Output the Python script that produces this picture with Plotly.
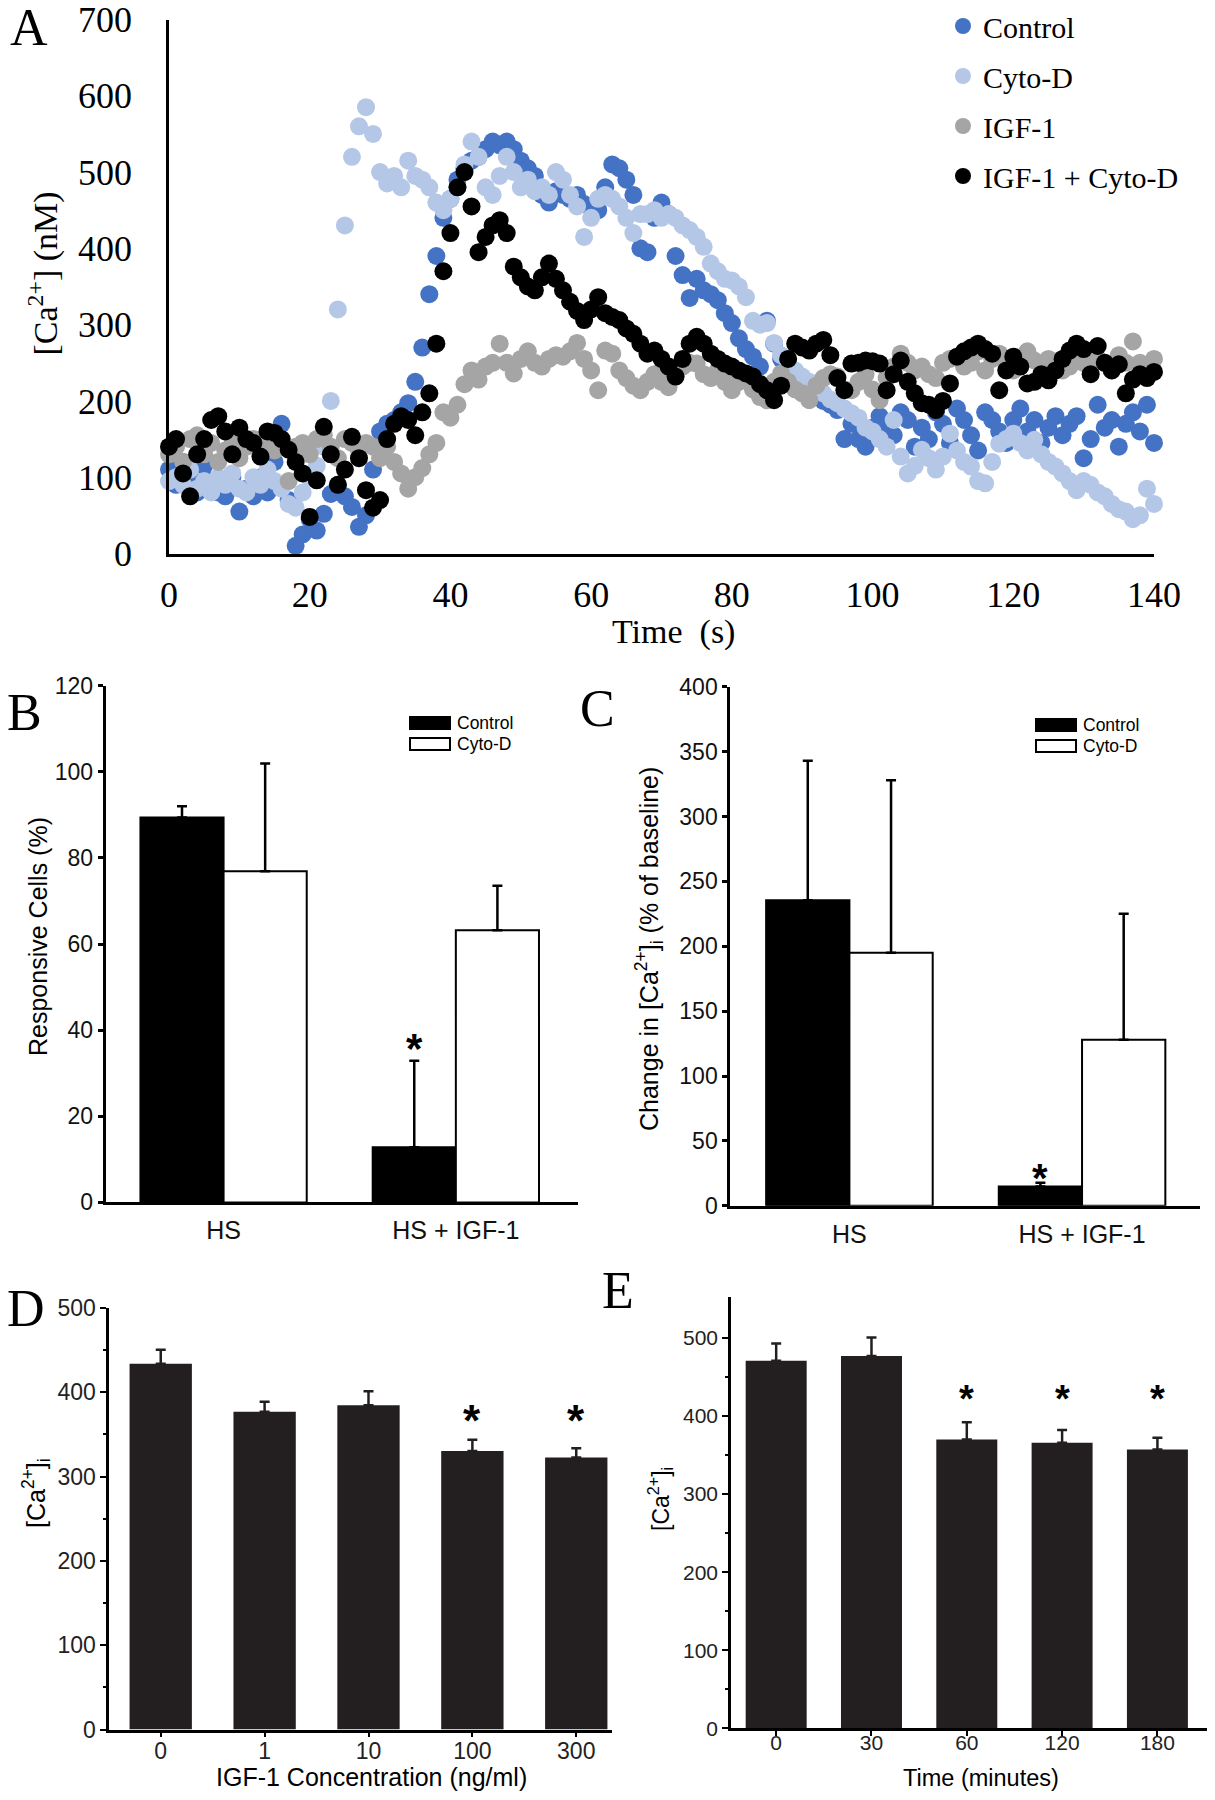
import plotly.graph_objects as go

# ---------------- Panel A data (time course, 1 s sampling) ----------------
time_s = list(range(0, 141))
control = [110, 90, 120, 100, 80, 115, 95, 80, 75, 100,
           55, 85, 75, 100, 80, 120, 170, 70, 10, 25,
           45, 30, 52, 78, 90, 75, 61, 35, 50, 110,
           160, 170, 175, 185, 197, 225, 270, 340, 390, 440,
           465, 490, 505, 515, 520, 530, 540, 535, 540, 530,
           515, 505, 495, 470, 460, 475, 470, 465, 470, 458,
           455, 450, 480, 510, 505, 490, 470, 400, 395, 440,
           460, 445, 390, 365, 335, 360, 345, 340, 332, 315,
           302, 282, 268, 258, 245, 305, 275, 255, 240, 230,
           225, 215, 210, 200, 195, 188, 150, 170, 150, 140,
           165, 180, 160, 155, 185, 175, 140, 165, 150, 185,
           170, 145, 190, 175, 155, 135, 185, 175, 160, 145,
           175, 190, 160, 175, 145, 165, 180, 155, 170, 180,
           125, 150, 195, 165, 175, 140, 170, 185, 160, 195,
           145]
cyto_d = [95, 100, 90, 110, 85, 95, 80, 100, 90, 105,
          85, 80, 100, 90, 110, 95, 85, 65, 60, 80,
          100, 115, 140, 200, 320, 430, 520, 560, 585, 550,
          500, 485, 495, 480, 515, 495, 490, 480, 460, 450,
          465, 480, 510, 540, 520, 480, 470, 495, 520, 500,
          480, 490, 475, 480, 470, 500, 490, 470, 455, 415,
          440, 465, 470, 465, 455, 440, 420, 445, 445, 450,
          440, 445, 440, 430, 424, 415, 402, 380, 370, 360,
          358, 350, 336, 305, 300, 302, 276, 260, 250, 240,
          232, 225, 218, 210, 202, 197, 190, 184, 178, 165,
          160, 150, 140, 175, 127, 105, 115, 136, 125, 110,
          127, 157, 135, 120, 114, 95, 92, 120, 144, 150,
          157, 145, 135, 149, 130, 120, 114, 105, 95, 83,
          95, 90, 80, 75, 65, 58, 55, 45, 50, 85,
          65]
igf1 = [130, 140, 120, 150, 155, 130, 145, 120, 135, 150,
        125, 140, 150, 130, 145, 135, 150, 95, 140, 145,
        130, 150, 155, 140, 125, 150, 145, 135, 145, 140,
        125, 140, 120, 105, 85, 100, 112, 130, 145, 185,
        178, 195, 222, 240, 228, 245, 250, 275, 250, 236,
        255, 265, 250, 245, 255, 260, 258, 265, 276, 255,
        240, 214, 266, 262, 240, 230, 220, 214, 225, 235,
        225, 218, 235, 245, 250, 249, 235, 230, 240, 225,
        214, 225, 235, 215, 205, 201, 225, 236, 225, 215,
        210, 201, 220, 230, 235, 232, 215, 214, 225, 235,
        215, 201, 230, 245, 262, 250, 240, 245, 235, 230,
        250, 255, 258, 245, 250, 265, 240, 255, 262, 250,
        240, 255, 265, 253, 245, 255, 250, 240, 245, 260,
        250, 265, 255, 250, 240, 260, 250, 278, 250, 245,
        255]
igf1_cyto_d = [140, 150, 105, 75, 130, 150, 175, 180, 160, 130,
               165, 150, 145, 127, 160, 158, 150, 136, 120, 105,
               48, 96, 166, 130, 90, 110, 153, 125, 83, 60,
               70, 150, 170, 180, 175, 155, 185, 210, 275, 370,
               420, 480, 500, 455, 395, 415, 430, 437, 420, 376,
               362, 350, 345, 362, 380, 360, 345, 330, 318, 306,
               320, 336, 315, 310, 306, 295, 288, 275, 262, 266,
               255, 245, 232, 255, 275, 284, 275, 262, 255, 249,
               245, 240, 236, 232, 222, 214, 201, 220, 255, 275,
               270, 266, 275, 280, 260, 230, 214, 249, 250, 253,
               252, 249, 214, 235, 253, 225, 210, 197, 195, 188,
               200, 223, 258, 265, 270, 275, 268, 262, 214, 240,
               258, 245, 223, 225, 235, 227, 240, 255, 266, 275,
               268, 235, 272, 250, 240, 248, 210, 228, 235, 230,
               238]
a_xticks = [0, 20, 40, 60, 80, 100, 120, 140]
a_yticks = [0, 100, 200, 300, 400, 500, 600, 700]

# ---------------- Panel B ----------------
b_groups = ["HS", "HS + IGF-1"]
b_control = [89.4, 12.8]
b_control_err = [2.6, 20.1]
b_cyto = [76.9, 63.2]
b_cyto_err = [25.0, 10.3]
b_star_value = 38

# ---------------- Panel C ----------------
c_groups = ["HS", "HS + IGF-1"]
c_control = [235.4, 14.8]
c_control_err = [107.6, 2.9]
c_cyto = [195.0, 128.0]
c_cyto_err = [133.0, 97.0]
c_star_value = 28.5

# ---------------- Panel D ----------------
d_conc = ["0", "1", "10", "100", "300"]
d_vals = [434.0, 376.8, 384.5, 330.5, 322.7]
d_err = [16.6, 12.0, 16.8, 13.3, 10.8]
d_sig = [False, False, False, True, True]
d_star_value = 379

# ---------------- Panel E ----------------
e_time = ["0", "30", "60", "120", "180"]
e_vals = [470.6, 476.7, 370.0, 365.8, 357.0]
e_err = [22.4, 23.8, 22.0, 16.2, 15.0]
e_sig = [False, False, True, True, True]
e_star_value = 433

W, H = 1215, 1800
SERIF = "Liberation Serif, Times New Roman, serif"
SANS = "Liberation Sans, Arial, sans-serif"
BARK = "#231F20"


def px(x):
    return x / W


def py(y):
    return 1 - y / H


fig = go.Figure()

# Panel A scatter series (later series drawn on top)
a_series = [("Control", control, "#4472C4"),
            ("Cyto-D", cyto_d, "#B4C7E7"),
            ("IGF-1", igf1, "#A5A5A5"),
            ("IGF-1 + Cyto-D", igf1_cyto_d, "#000000")]
for i, (name, vals, col) in enumerate(a_series):
    fig.add_trace(go.Scatter(
        x=time_s, y=vals, mode="markers", name=name,
        marker=dict(color=col, size=18, line=dict(width=0)),
        xaxis="x", yaxis="y", legend="legend", legendgroup=f"a{i}",
        cliponaxis=False, showlegend=True))

# Panel B and C grouped bars with explicit offsets
BW = 0.358
for grp, ctrl, ctrl_e, cyto, cyto_e, xa, ya in [
        (b_groups, b_control, b_control_err, b_cyto, b_cyto_err, "x2", "y2"),
        (c_groups, c_control, c_control_err, c_cyto, c_cyto_err, "x3", "y3")]:
    fig.add_trace(go.Bar(
        x=grp, y=ctrl, width=BW, offset=-BW, name="Control",
        marker=dict(color="black", line=dict(color="black", width=2)),
        error_y=dict(type="data", array=ctrl_e, arrayminus=[0] * len(ctrl_e),
                     symmetric=False, color="black", thickness=2.5, width=5),
        xaxis=xa, yaxis=ya, showlegend=False))
    fig.add_trace(go.Bar(
        x=grp, y=cyto, width=BW, offset=0, name="Cyto-D",
        marker=dict(color="white", line=dict(color="black", width=2)),
        error_y=dict(type="data", array=cyto_e, arrayminus=[0] * len(cyto_e),
                     symmetric=False, color="black", thickness=2.5, width=5),
        xaxis=xa, yaxis=ya, showlegend=False))

# Panel D
fig.add_trace(go.Bar(
    x=d_conc, y=d_vals, width=0.6, marker=dict(color=BARK, line=dict(width=0)),
    error_y=dict(type="data", array=d_err, arrayminus=[0] * len(d_err),
                 symmetric=False, color=BARK, thickness=2.5, width=5),
    xaxis="x4", yaxis="y4", showlegend=False))
# Panel E
fig.add_trace(go.Bar(
    x=e_time, y=e_vals, width=0.64, marker=dict(color=BARK, line=dict(width=0)),
    error_y=dict(type="data", array=e_err, arrayminus=[0] * len(e_err),
                 symmetric=False, color=BARK, thickness=2.5, width=5),
    xaxis="x5", yaxis="y5", showlegend=False))

axis_common = dict(showgrid=False, zeroline=False, showline=True, linecolor="black",
                   automargin=False)

layout = dict(
    width=W, height=H, margin=dict(l=0, r=0, t=0, b=0, pad=0, autoexpand=False),
    autosize=False,
    paper_bgcolor="white", plot_bgcolor="white", barmode="overlay",
    # Panel A
    xaxis=dict(domain=[px(169), px(1154)], range=[0, 140], tickvals=a_xticks,
               ticks="outside", ticklen=8, tickcolor="rgba(0,0,0,0)",
               tickfont=dict(family=SERIF, size=36, color="black"),
               linewidth=2.5, anchor="y", **axis_common),
    yaxis=dict(domain=[py(553.5), py(19.5)], range=[0, 700], tickvals=a_yticks,
               ticks="outside", ticklen=27, tickcolor="rgba(0,0,0,0)",
               tickfont=dict(family=SERIF, size=36, color="black"),
               linewidth=2.5, anchor="x", **axis_common),
    # Panel B
    xaxis2=dict(domain=[px(105.6), px(578)], range=[-0.508, 1.526], type="category",
                ticks="outside", ticklen=4, tickcolor="rgba(0,0,0,0)",
                tickfont=dict(family=SANS, size=25, color="#111"),
                linewidth=3, anchor="y2", **axis_common),
    yaxis2=dict(domain=[py(1202.4), py(685.6)], range=[0, 120], dtick=20,
                ticks="outside", ticklen=5, tickwidth=2.5, tickcolor="black",
                tickfont=dict(family=SANS, size=23, color="#111"),
                linewidth=3, anchor="x2", **axis_common),
    # Panel C
    xaxis3=dict(domain=[px(730.3), px(1200)], range=[-0.512, 1.507], type="category",
                ticks="outside", ticklen=4, tickcolor="rgba(0,0,0,0)",
                tickfont=dict(family=SANS, size=25, color="#111"),
                linewidth=3, anchor="y3", **axis_common),
    yaxis3=dict(domain=[py(1205.8), py(686.7)], range=[0, 400], dtick=50,
                ticks="outside", ticklen=5, tickwidth=2.5, tickcolor="black",
                tickfont=dict(family=SANS, size=23, color="#111"),
                linewidth=3, anchor="x3", **axis_common),
    # Panel D
    xaxis4=dict(domain=[px(109.2), px(612)], range=[-0.496, 4.344], type="category",
                ticks="outside", ticklen=5, tickwidth=2, tickcolor="black",
                ticklabelstandoff=-6,
                tickfont=dict(family=SANS, size=23, color="#222"),
                linewidth=2.5, anchor="y4", **axis_common),
    yaxis4=dict(domain=[py(1729.5), py(1308)], range=[0, 500], dtick=100,
                ticks="outside", ticklen=6, tickwidth=2, tickcolor="black",
                minor=dict(dtick=50, ticks="outside", ticklen=3, tickwidth=1.5, tickcolor="black"),
                tickfont=dict(family=SANS, size=23, color="#222"),
                linewidth=2.5, anchor="x4", **axis_common),
    # Panel E
    xaxis5=dict(domain=[px(731), px(1206.5)], range=[-0.474, 4.515], type="category",
                ticks="outside", ticklen=5, tickwidth=2, tickcolor="black",
                ticklabelstandoff=-11,
                tickfont=dict(family=SANS, size=21, color="#222"),
                linewidth=2.5, anchor="y5", **axis_common),
    yaxis5=dict(domain=[py(1728.3), py(1297)], range=[0, 552.4],
                tickvals=[0, 100, 200, 300, 400, 500],
                ticks="outside", ticklen=6, tickwidth=2, tickcolor="black",
                minor=dict(tickvals=[50, 150, 250, 350, 450], ticks="outside", ticklen=3,
                           tickwidth=1.5, tickcolor="black"),
                tickfont=dict(family=SANS, size=21, color="#222"),
                linewidth=2.5, anchor="x5", **axis_common),
    legend=dict(x=px(943), y=py(0), xanchor="left", yanchor="top",
                font=dict(family=SERIF, size=30, color="black"),
                bgcolor="rgba(0,0,0,0)", tracegroupgap=8, traceorder="grouped",
                itemsizing="trace"),
)
fig.update_layout(**layout)

ann = []
shapes = []


def paper_text(x, y, text, family, size, angle=0, xanchor="center"):
    ann.append(dict(x=px(x), y=py(y), xref="paper", yref="paper", text=text,
                    showarrow=False, textangle=angle, xanchor=xanchor, yanchor="middle",
                    font=dict(family=family, size=size, color="black")))


# Panel letters
paper_text(29, 28, "A", SERIF, 52)
paper_text(24, 712, "B", SERIF, 52)
paper_text(597, 708, "C", SERIF, 52)
paper_text(26, 1308, "D", SERIF, 52)
paper_text(618, 1290, "E", SERIF, 52)
# Axis titles
paper_text(42.5, 274, "[Ca<sup>2+</sup>] (nM)", SERIF, 34, -90)
paper_text(673, 632, "Time\u00a0 (s)", SERIF, 34)
paper_text(38, 937, "Responsive Cells (%)", SANS, 25, -90)
paper_text(649, 949, "Change in [Ca<sup>2+</sup>]<sub>i</sub> (% of baseline)", SANS, 25, -90)
paper_text(36, 1493, "[Ca<sup>2+</sup>]<sub>i</sub>", SANS, 25, -90)
paper_text(371.5, 1777, "IGF-1 Concentration (ng/ml)", SANS, 25)
paper_text(660, 1499, "[Ca<sup>2+</sup>]<sub>i</sub>", SANS, 23, -90)
paper_text(980.6, 1777.5, "Time (minutes)", SANS, 23.5)

# Legends for panels B and C (wide swatches as in the original)
bar_legend_items = [("Control", "black"), ("Cyto-D", "white")]
for (lx, ly0) in [(410, 723), (1036, 725)]:
    for k, (label, fill) in enumerate(bar_legend_items):
        yc = ly0 + k * 21
        shapes.append(dict(type="rect", xref="paper", yref="paper",
                           x0=px(lx), x1=px(lx + 40), y0=py(yc + 6), y1=py(yc - 6),
                           fillcolor=fill, line=dict(color="black", width=2)))
        paper_text(lx + 45, yc, label, SANS, 17.5, xanchor="left")


def star(xref, yref, x, y, size):
    ann.append(dict(x=x, y=y, xref=xref, yref=yref, text="<b>*</b>", showarrow=False,
                    xanchor="center", yanchor="middle", yshift=-0.23 * size,
                    font=dict(family=SANS, size=size, color="black")))


star("x2", "y2", 1 - BW / 2, b_star_value, 42)
star("x3", "y3", 1 - BW / 2, c_star_value, 40)
for i, s in enumerate(d_sig):
    if s:
        star("x4", "y4", i, d_star_value, 44)
for i, s in enumerate(e_sig):
    if s:
        star("x5", "y5", i, e_star_value, 38)

fig.update_layout(annotations=ann, shapes=shapes)
fig.write_html(
    "out.html",
    config={"displayModeBar": False},
    post_script="document.documentElement.style.margin='0';document.body.style.margin='0';"
                "document.body.style.padding='0';document.documentElement.style.overflow='hidden';"
                "document.body.style.overflow='hidden';")
